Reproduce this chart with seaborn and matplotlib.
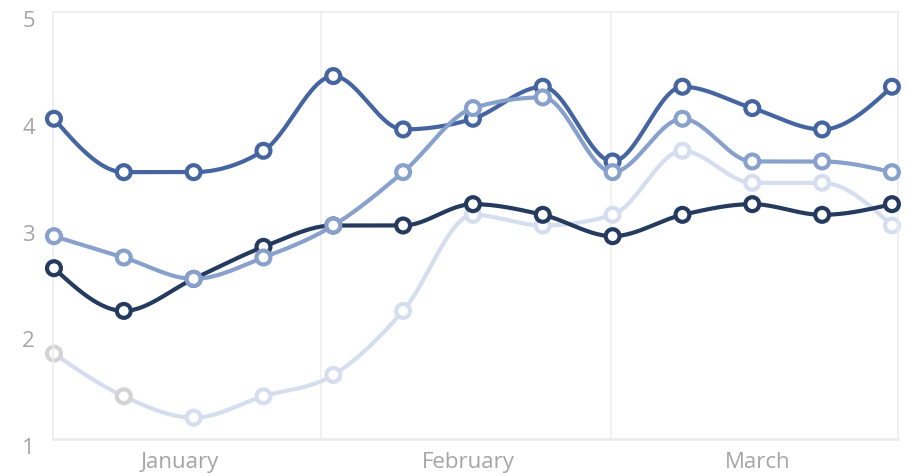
import numpy as np
import pandas as pd
import matplotlib
matplotlib.use('Agg')
import matplotlib.pyplot as plt
import matplotlib.transforms as mtransforms
import seaborn as sns

# 데이터 (주간 값, 2024년 1월 ~ 3월)
dates = ['2024-01-05', '2024-01-12', '2024-01-19', '2024-01-26', '2024-02-02',
         '2024-02-09', '2024-02-16', '2024-02-23', '2024-03-01', '2024-03-08',
         '2024-03-15', '2024-03-22', '2024-03-29']
series_a = [4.0, 3.5, 3.5, 3.7, 4.4, 3.9, 4.0, 4.3, 3.6, 4.3, 4.1, 3.9, 4.3]
series_b = [2.9, 2.7, 2.5, 2.7, 3.0, 3.5, 4.1, 4.2, 3.5, 4.0, 3.6, 3.6, 3.5]
series_c = [2.6, 2.2, 2.5, 2.8, 3.0, 3.0, 3.2, 3.1, 2.9, 3.1, 3.2, 3.1, 3.2]
series_d = [1.8, 1.4, 1.2, 1.4, 1.6, 2.2, 3.1, 3.0, 3.1, 3.7, 3.4, 3.4, 3.0]
month_labels = ['January', 'February', 'March']
month_starts = ['2024-02-01', '2024-03-01']
y_ticks = [1, 2, 3, 4, 5]

sns.set_theme(style='white')
plt.rcParams['font.family'] = ['Open Sans', 'DejaVu Sans']

start = pd.Timestamp(dates[0])
x = np.array([(pd.Timestamp(d) - start).days for d in dates], dtype=float)


def monotone_curve(xs, ys, n=30):
    # d3 curveMonotoneX 와 같은 방식의 단조 3차 보간
    xs = np.asarray(xs, float)
    ys = np.asarray(ys, float)
    h = np.diff(xs)
    s = np.diff(ys) / h
    t = np.zeros(len(xs))
    for i in range(1, len(xs) - 1):
        p = (s[i - 1] * h[i] + s[i] * h[i - 1]) / (h[i - 1] + h[i])
        t[i] = (np.sign(s[i - 1]) + np.sign(s[i])) * min(abs(s[i - 1]), abs(s[i]), 0.5 * abs(p))
    t[0] = (3 * s[0] - t[1]) / 2
    t[-1] = (3 * s[-1] - t[-2]) / 2
    out_x, out_y = [], []
    for i in range(len(xs) - 1):
        u = np.linspace(0, 1, n)
        h00 = 2 * u**3 - 3 * u**2 + 1
        h10 = u**3 - 2 * u**2 + u
        h01 = -2 * u**3 + 3 * u**2
        h11 = u**3 - u**2
        yy = h00 * ys[i] + h10 * h[i] * t[i] + h01 * ys[i + 1] + h11 * h[i] * t[i + 1]
        out_x.extend(xs[i] + u * h[i])
        out_y.extend(yy)
    return np.array(out_x), np.array(out_y)


fig = plt.figure(figsize=(9.07, 4.77), dpi=100)
ax = fig.add_axes([0.0584, 0.0776, 0.9316, 0.8951])

styles = [
    (series_d, '#d5ddee', 2),
    (series_c, '#243a5e', 3),
    (series_a, '#4565a0', 4),
    (series_b, '#88a1cc', 5),
]

for vals, col, z in styles:
    cx, cy = monotone_curve(x, vals)
    sns.lineplot(x=cx, y=cy, color=col, linewidth=3, ax=ax, zorder=z, sort=False)
    edge = [col] * len(vals)
    if vals is series_d:
        edge[0] = '#d3d3d3'
        edge[1] = '#d3d3d3'
    ax.scatter(x, vals, s=100, facecolor='white', edgecolor=edge, linewidth=3,
               zorder=z + 0.5, clip_on=False)

# 월 경계선
for m in month_starts:
    d = (pd.Timestamp(m) - start).days - 0.2
    ax.axvline(d, color='#efeff1', linewidth=1.2, zorder=0)

ax.set_xlim(-0.1, 84.6)
ax.set_ylim(1, 5)
ax.set_yticks(y_ticks)
ax.set_yticklabels([str(v) for v in y_ticks])
ax.set_xticks([12.6, 41.5, 70.5])
ax.set_xticklabels(month_labels)
ax.tick_params(axis='both', length=0, labelsize=16, colors='#a5a5a5')
ax.tick_params(axis='y', pad=13)
ax.tick_params(axis='x', pad=9)
ax.set_xlabel('')
ax.set_ylabel('')

# y 라벨을 살짝 아래로
shift = mtransforms.ScaledTranslation(0, -6 / 100, fig.dpi_scale_trans)
for lab in ax.get_yticklabels():
    lab.set_transform(lab.get_transform() + shift)

for sp in ax.spines.values():
    sp.set_color('#ececee')
    sp.set_linewidth(1.2)
ax.spines['bottom'].set_linewidth(2)

plt.savefig('out.png', dpi=100)
